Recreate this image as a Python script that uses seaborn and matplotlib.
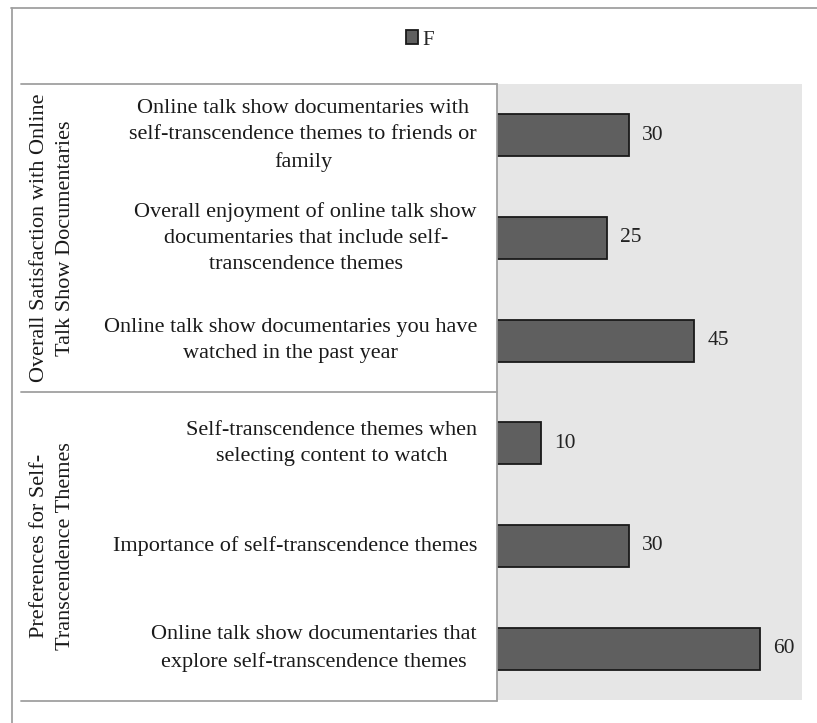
import matplotlib
matplotlib.use("Agg")
import matplotlib.pyplot as plt
from matplotlib.lines import Line2D
from matplotlib.transforms import blended_transform_factory
import seaborn as sns
import pandas as pd

# Survey items (top to bottom) and their frequencies
items = [
    "Online talk show documentaries with\nself-transcendence themes to friends or\nfamily",
    "Overall enjoyment of online talk show\ndocumentaries that include self-\ntranscendence themes",
    "Online talk show documentaries you have\nwatched in the past year",
    "Self-transcendence themes when\nselecting content to watch",
    "Importance of self-transcendence themes",
    "Online talk show documentaries that\nexplore self-transcendence themes",
]
freq = [30, 25, 45, 10, 30, 60]
groups = [
    "Overall Satisfaction with Online\nTalk Show Documentaries",
    "Preferences for Self-\nTranscendence Themes",
]
group_sizes = [3, 3]
series_name = "F"

sns.set_theme(style="white")
plt.rcParams["font.family"] = ["Liberation Serif", "DejaVu Serif"]

W, H = 817, 723
fig = plt.figure(figsize=(W / 100, H / 100), dpi=100)
fig.patch.set_facecolor("white")

# plot area in pixel coordinates
px0, px1, py0, py1 = 497, 802, 84, 700
ax = fig.add_axes([px0 / W, 1 - py1 / H, (px1 - px0) / W, (py1 - py0) / H])

df = pd.DataFrame({"item": items, "F": freq})
sns.barplot(data=df, y="item", x="F", orient="h", color="#5f5f5f",
            edgecolor="#1a1a1a", linewidth=1.3, width=0.41, saturation=1,
            label=series_name, ax=ax)
if ax.get_legend() is not None:
    ax.get_legend().remove()

ax.set_facecolor("#e6e6e6")
ax.set_xlim(0, 69.5)
ax.set_ylim(len(items) - 0.5, -0.5)
for s in ax.spines.values():
    s.set_visible(False)
ax.set_xticks([])
ax.set_yticks([])
ax.set_xlabel("")
ax.set_ylabel("")

# value labels
for i, v in enumerate(freq):
    ax.text(v + 3.0, i, str(v), va="center", ha="left", fontsize=15.5, color="#222222")

# item labels in the left table
trans = blended_transform_factory(ax.transAxes, ax.transData)
for i, t in enumerate(items):
    ax.text(-20 / (px1 - px0), i, t, transform=trans, ha="right", va="center",
            multialignment="center", fontsize=16, color="#1a1a1a",
            linespacing=1.5, clip_on=False)

# group labels, rotated
start = 0
for g, n in zip(groups, group_sizes):
    yc = start + (n - 1) / 2
    ax.text(-444 / (px1 - px0), yc, g, transform=trans, rotation=90,
            ha="center", va="center", multialignment="center",
            fontsize=16, color="#1a1a1a", linespacing=1.5, clip_on=False)
    start += n

# table and frame lines
def hline(y, x0, x1, c="#a0a0a0", lw=1.3):
    fig.add_artist(Line2D([x0 / W, x1 / W], [1 - y / H, 1 - y / H],
                          transform=fig.transFigure, color=c, lw=lw))

def vline(x, y0, y1, c="#a0a0a0", lw=1.3):
    fig.add_artist(Line2D([x / W, x / W], [1 - y0 / H, 1 - y1 / H],
                          transform=fig.transFigure, color=c, lw=lw))

hline(83.5, 21, 497)
hline(392, 21, 497)
hline(700.5, 21, 497)
vline(497, 83.5, 700.5)
# outer chart frame
hline(7.5, 11, W)
vline(11.5, 7.5, H)

# legend
fig.legend(handles=ax.patches[:1], labels=[series_name], loc="center",
           bbox_to_anchor=(420 / W, 1 - 40 / H), frameon=False, fontsize=15,
           handlelength=0.6, handleheight=0.65, handletextpad=0.2)

fig.savefig("out.png", dpi=100, facecolor="white")
